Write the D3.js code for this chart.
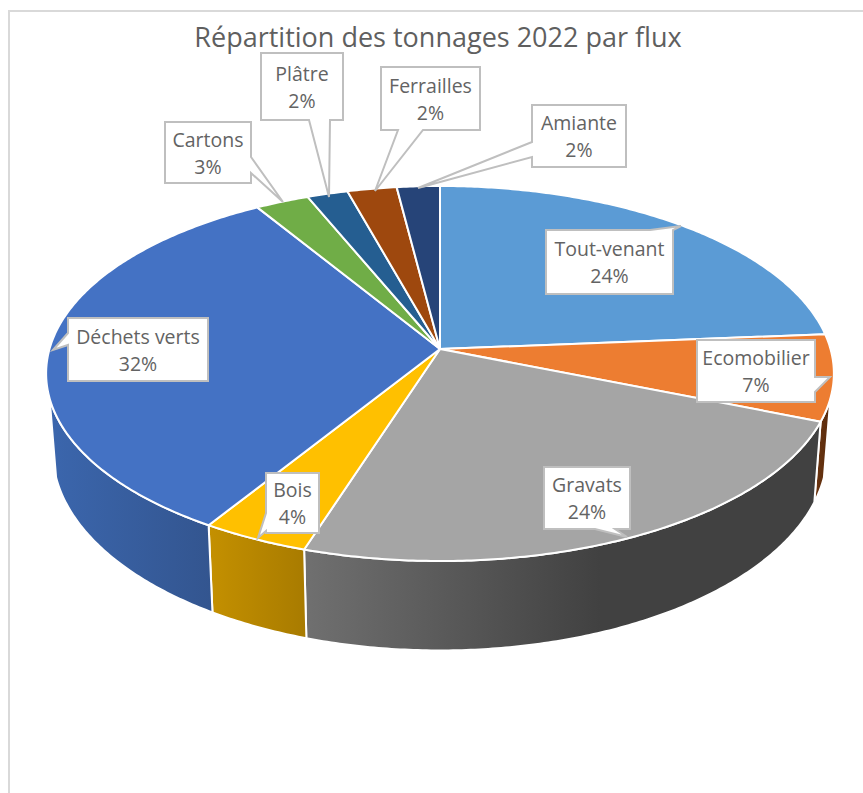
<!DOCTYPE html>
<html>
<head>
<meta charset="utf-8">
<script src="https://cdn.jsdelivr.net/npm/d3@7/dist/d3.min.js"></script>
<style>
  html, body { margin: 0; padding: 0; background: #fff; }
  text { font-family: "Open Sans", "Noto Sans", sans-serif; }
</style>
</head>
<body>
<div id="root"></div>
<script>
const categories = ["Tout-venant", "Ecomobilier", "Gravats", "Bois", "Déchets verts", "Cartons", "Plâtre", "Ferrailles", "Amiante"];
const tonnages = [23.7, 7.4, 23.8, 3.9, 32.45, 2.5, 1.9, 2.3, 2.0];
const topColors = ["#5b9bd5", "#ed7d31", "#a5a5a5", "#ffc000", "#4472c4", "#70ad47", "#255e91", "#9e480e", "#264478"];
const sideFrom = ["#3f6f9c", "#6b3410", "#707070", "#c49000", "#3b66ad", "#4f7a32", "#1a4267", "#6f320a", "#1b3055"];
const sideTo = ["#3f6f9c", "#5a2c0d", "#414141", "#a87b00", "#33558f", "#4f7a32", "#1a4267", "#6f320a", "#1b3055"];

// callout boxes [x0, y0, x1, y1], the notch side and the tip they point at
const callouts = [
  { box: [546, 230, 673, 294], side: "top", notch: [650, 673], tip: [681, 226] },
  { box: [697, 340, 815, 402], side: "right", notch: [377, 392], tip: [830, 377] },
  { box: [544, 467, 630, 529], side: "bottom", notch: [595, 615], tip: [627, 537] },
  { box: [266, 473, 319, 533], side: "left", notch: [513, 531], tip: [258, 538] },
  { box: [68, 318, 208, 381], side: "left", notch: [333, 345], tip: [53, 350] },
  { box: [165, 122, 251, 183], side: "right", notch: [157, 173], tip: [283, 202] },
  { box: [261, 53, 343, 120], side: "bottom", notch: [309, 330], tip: [329, 197] },
  { box: [381, 67, 480, 130], side: "bottom", notch: [398, 423], tip: [375, 191] },
  { box: [532, 105, 626, 167], side: "left", notch: [142, 157], tip: [418, 188] },
];

const width = 863, height = 793;
const cx = 440, cy = 349;
const tilt = 0.1306; // perspective strength of the tilted disc

const line = d3.line();

const svg = d3.select("#root").append("svg")
  .attr("width", width)
  .attr("height", height)
  .style("display", "block");

svg.append("rect").attr("width", width).attr("height", height).attr("fill", "#fff");
// chart frame, cut off by the screenshot on the right and at the bottom
svg.append("path")
  .attr("d", line([[9, height], [9, 11], [width, 11]]))
  .attr("fill", "none")
  .attr("stroke", "#d9d9d9")
  .attr("stroke-width", 2);

svg.append("text")
  .attr("x", 438).attr("y", 47)
  .attr("text-anchor", "middle")
  .attr("font-size", 27)
  .attr("fill", "#5f5f5f")
  .text("Répartition des tonnages 2022 par flux");

const pie = d3.pie().sort(null).value((d) => d);
const arcs = pie(tonnages);

// angle -> screen position on the top face or on the lower rim
function project(angle, rx, ry, y0) {
  const u = Math.sin(angle), v = -Math.cos(angle);
  const w = 1 - tilt * v;
  return [cx + (rx * u) / w, y0 + (ry * v) / w];
}
const onTop = (a) => project(a, 390.5, 184.3, cy);
const onBottom = (a) => project(a, 384, 196, 425);

function arcAngles(a0, a1) {
  const n = Math.max(2, Math.ceil((a1 - a0) / 0.01));
  return d3.range(n + 1).map((i) => a0 + ((a1 - a0) * i) / n);
}

const defs = svg.append("defs");

// rim: only the part turned towards the viewer
const visible = [(105 * Math.PI) / 180, (255 * Math.PI) / 180];
arcs.forEach((d, i) => {
  const a0 = Math.max(d.startAngle, visible[0]);
  const a1 = Math.min(d.endAngle, visible[1]);
  if (a1 <= a0) return;
  const angles = arcAngles(a0, a1);
  const pts = angles.map(onTop).concat(angles.slice().reverse().map(onBottom));
  const xs = d3.extent(pts, (p) => p[0]);
  const grad = defs.append("linearGradient")
    .attr("id", `side-${i}`)
    .attr("gradientUnits", "userSpaceOnUse")
    .attr("x1", xs[0]).attr("x2", i === 2 ? 600 : xs[1])
    .attr("y1", 0).attr("y2", 0);
  grad.append("stop").attr("offset", 0).attr("stop-color", sideFrom[i]);
  grad.append("stop").attr("offset", 1).attr("stop-color", sideTo[i]);
  svg.append("path")
    .attr("d", line(pts) + "Z")
    .attr("fill", `url(#side-${i})`)
    .attr("stroke", "#fff")
    .attr("stroke-width", 2)
    .attr("stroke-linejoin", "round");
});

// top face
svg.append("g").selectAll("path")
  .data(arcs)
  .join("path")
  .attr("d", (d) => line([[cx, cy]].concat(arcAngles(d.startAngle, d.endAngle).map(onTop))) + "Z")
  .attr("fill", (d, i) => topColors[i])
  .attr("stroke", "#fff")
  .attr("stroke-width", 2)
  .attr("stroke-linejoin", "round");

function calloutPath({ box, side, notch, tip }) {
  const [x0, y0, x1, y1] = box;
  const pts = [[x0, y0]];
  if (side === "top") pts.push([notch[0], y0], tip, [notch[1], y0]);
  pts.push([x1, y0]);
  if (side === "right") pts.push([x1, notch[0]], tip, [x1, notch[1]]);
  pts.push([x1, y1]);
  if (side === "bottom") pts.push([notch[1], y1], tip, [notch[0], y1]);
  pts.push([x0, y1]);
  if (side === "left") pts.push([x0, notch[1]], tip, [x0, notch[0]]);
  return line(pts) + "Z";
}

const total = d3.sum(tonnages);
categories.forEach((name, i) => {
  const c = callouts[i];
  const g = svg.append("g");
  g.append("path")
    .attr("d", calloutPath(c))
    .attr("fill", "#fff")
    .attr("stroke", "#bfbfbf")
    .attr("stroke-width", 2);
  const mx = (c.box[0] + c.box[2]) / 2;
  const my = (c.box[1] + c.box[3]) / 2;
  const label = g.append("text")
    .attr("text-anchor", "middle")
    .attr("font-size", 19.5)
    .attr("fill", "#636363");
  label.append("tspan").attr("x", mx).attr("y", my - 6).text(name);
  label.append("tspan").attr("x", mx).attr("y", my + 21).text(`${Math.round((tonnages[i] / total) * 100)}%`);
});
</script>
</body>
</html>
